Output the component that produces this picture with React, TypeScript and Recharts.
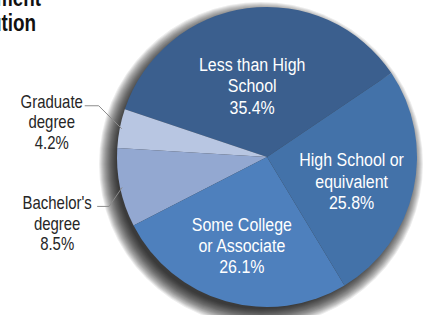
import React from "react";
import { PieChart, Pie, Cell } from "recharts";

const categories = [
  "Less than High School",
  "Graduate degree",
  "Bachelor's degree",
  "Some College or Associate",
  "High School or equivalent",
];
const values = [35.4, 4.2, 8.5, 26.1, 25.8];
const labelLines = [
  ["Less than High", "School"],
  ["Graduate", "degree"],
  ["Bachelor's", "degree"],
  ["Some College", "or Associate"],
  ["High School or", "equivalent"],
];
const titleLines = ["Educational Attainment", "Distribution"];

const colors = ["#3b5f8e", "#b8c6e2", "#93a8d1", "#4e80bd", "#4372a9"];

const data = categories.map((name, i) => ({ name, value: values[i] }));
const shadowData = [
  { name: "a", value: 50 },
  { name: "b", value: 50 },
];
// soft shadow rings (radius offsets) to imitate a blurred drop shadow
const shadowRings = [12, 11, 10, 9, 8, 7, 6, 5, 4, 3, 2, 1, 0, -1, -2, -3, -4, -5];

const FONT = "'Liberation Sans', Arial, sans-serif";
const NARROW = 0.84;
const RAD = Math.PI / 180;

// label layout styling (inside: radius + angle tweak; outside: leader offsets)
const insideStyle: Record<number, { r: number; a: number }> = {
  0: { r: 73, a: 4 },
  3: { r: 92, a: 0 },
  4: { r: 88, a: -3.5 },
};
const outsideStyle: Record<number, { elbow: [number, number]; end: [number, number]; tx: number; ty: number }> = {
  1: { elbow: [-23, -23], end: [-37, -23], tx: -70, ty: -21 },
  2: { elbow: [-13, 19], end: [-25, 19], tx: -65, ty: 22 },
};

const renderLabel = (props: any) => {
  const { cx, cy, midAngle, outerRadius, index, value } = props;
  const lines = [...labelLines[index], `${value.toFixed(1)}%`];
  if (insideStyle[index]) {
    const s = insideStyle[index];
    const ang = (midAngle + s.a) * RAD;
    const x = cx + s.r * Math.cos(ang);
    const y = cy - s.r * Math.sin(ang);
    return (
      <text
        transform={`translate(${x},${y}) scale(${NARROW},1)`}
        textAnchor="middle"
        fill="#ffffff"
        fontFamily={FONT}
        fontSize={19}
      >
        {lines.map((l, i) => (
          <tspan key={i} x={0} y={(i - 1) * 21.5 + 6.5}>
            {l}
          </tspan>
        ))}
      </text>
    );
  }
  const o = outsideStyle[index];
  const ang = midAngle * RAD;
  const ex = cx + (outerRadius - 2) * Math.cos(ang);
  const ey = cy - (outerRadius - 2) * Math.sin(ang);
  const tx = ex + o.tx;
  const ty = ey + o.ty;
  return (
    <g>
      <polyline
        points={`${ex},${ey} ${ex + o.elbow[0]},${ey + o.elbow[1]} ${ex + o.end[0]},${ey + o.end[1]}`}
        fill="none"
        stroke="#8c8c8c"
        strokeWidth={1}
      />
      <text
        transform={`translate(${tx},${ty}) scale(0.83,1)`}
        textAnchor="middle"
        fill="#262626"
        fontFamily={FONT}
        fontSize={18}
      >
        {lines.map((l, i) => (
          <tspan key={i} x={0} y={i * 20.5}>
            {l}
          </tspan>
        ))}
      </text>
    </g>
  );
};

export default function App() {
  return (
    <div style={{ position: "absolute", left: 0, top: 0, width: 425, height: 315, background: "#ffffff" }}>
      <PieChart width={425} height={315} margin={{ top: 0, right: 0, bottom: 0, left: 0 }}>
        <text
          transform="translate(41,6) scale(0.82,1)"
          fontFamily={FONT}
          fontWeight="bold"
          fontSize={23}
          fill="#111111"
          textAnchor="end"
        >
          <tspan x={0} y={0}>{titleLines[0]}</tspan>
        </text>
        <text
          transform="translate(36,31) scale(0.82,1)"
          fontFamily={FONT}
          fontWeight="bold"
          fontSize={23}
          fill="#111111"
          textAnchor="end"
        >
          <tspan x={0} y={0}>{titleLines[1]}</tspan>
        </text>
        {shadowRings.map((d) => (
          <Pie
            key={`sh${d}`}
            data={shadowData}
            dataKey="value"
            cx={261}
            cy={164}
            outerRadius={150 + d}
            startAngle={0}
            endAngle={360}
            stroke="none"
            isAnimationActive={false}
            label={false}
            labelLine={false}
          >
            {shadowData.map((s) => (
              <Cell key={s.name} fill="#000000" fillOpacity={0.075} />
            ))}
          </Pie>
        ))}
        <Pie
          data={data}
          dataKey="value"
          nameKey="name"
          cx={267}
          cy={157}
          outerRadius={150}
          startAngle={34}
          endAngle={394}
          stroke="none"
          isAnimationActive={false}
          label={renderLabel}
          labelLine={false}
        >
          {data.map((d, i) => (
            <Cell key={d.name} fill={colors[i]} />
          ))}
        </Pie>
      </PieChart>
    </div>
  );
}
